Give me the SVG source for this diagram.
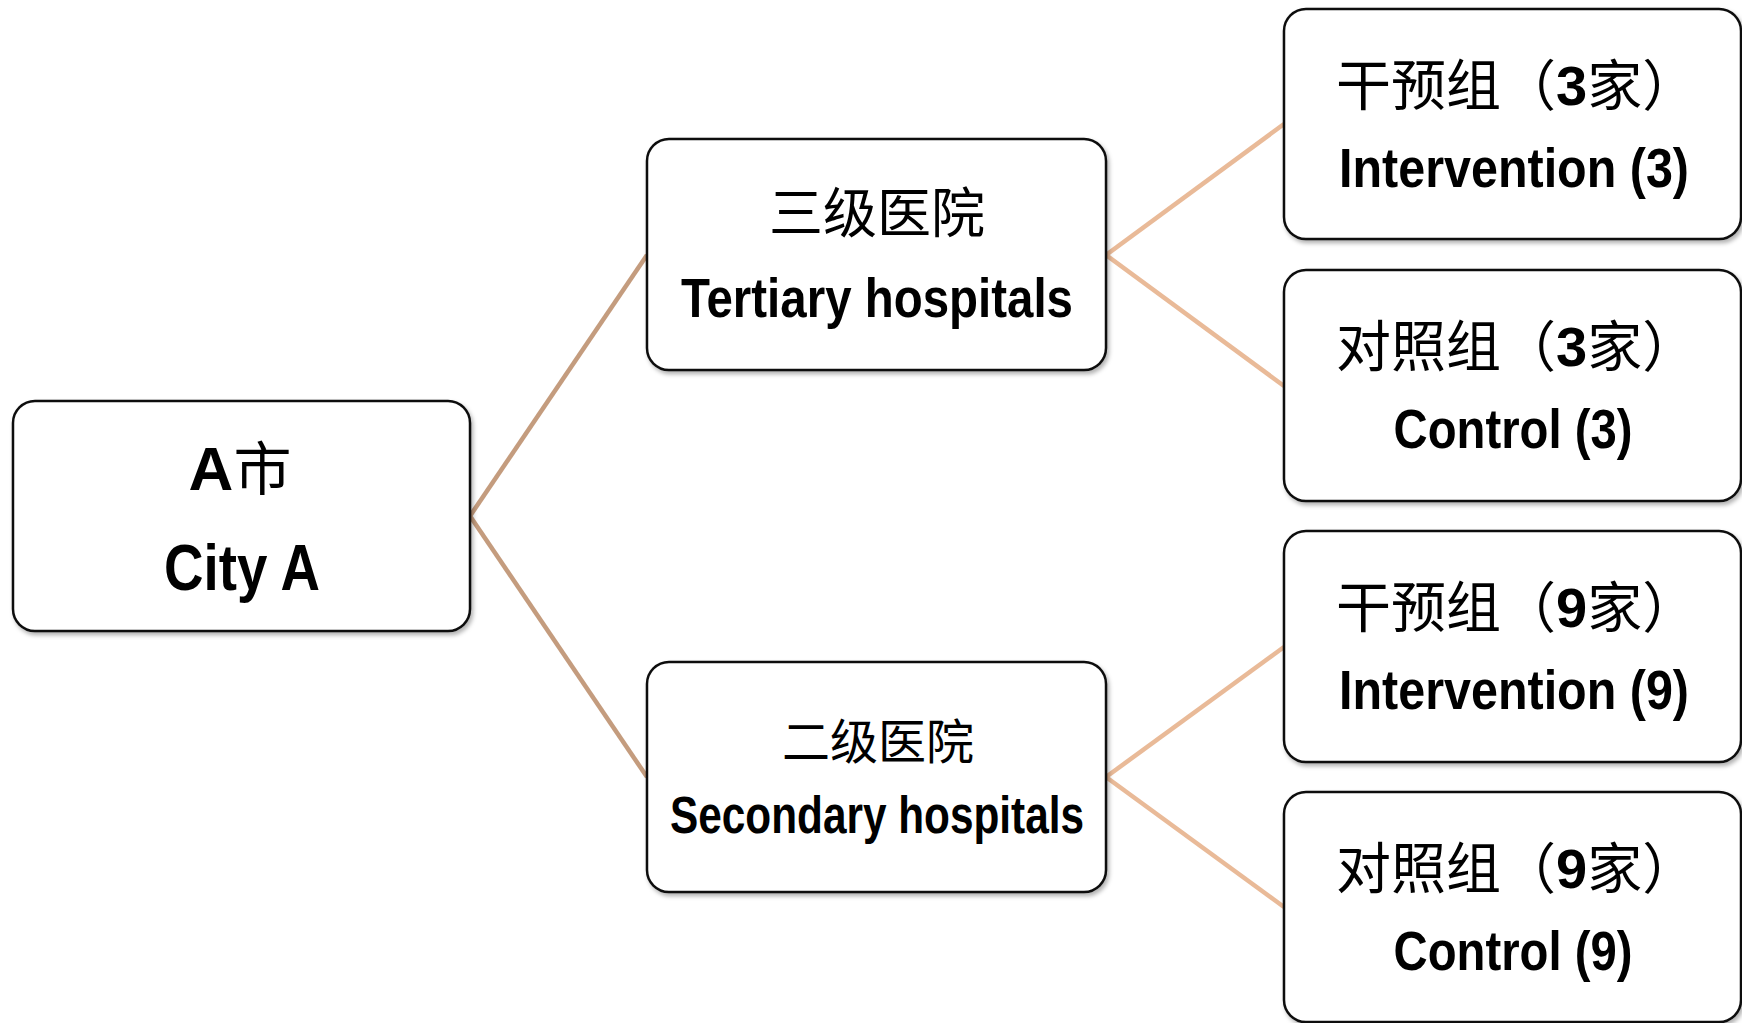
<svg xmlns="http://www.w3.org/2000/svg" width="1742" height="1023" viewBox="0 0 1742 1023">
<style>
.box{fill:#fff;stroke:#111;stroke-width:2.5;filter:url(#sh)}
.cn{font-family:"Noto Sans CJK SC",sans-serif;font-size:55px;fill:#000}
.en{font-family:"Liberation Sans",Arial,sans-serif;font-weight:bold;font-size:55px;fill:#000}
.num{font-family:"Liberation Sans",Arial,sans-serif;font-weight:bold;font-size:56px}
.c1{stroke:#C49C7E;stroke-width:4.5;fill:none}
.c2{stroke:#E9BA98;stroke-width:4.5;fill:none}
</style>
<defs>
<filter id="sh" x="-5%" y="-5%" width="112%" height="115%">
<feDropShadow dx="2" dy="3" stdDeviation="2" flood-color="#000" flood-opacity="0.3"/>
</filter>
</defs>
<rect width="1742" height="1023" fill="#fff"/>
<g id="connectors">
<line class="c1" x1="470" y1="516" x2="647" y2="255"/>
<line class="c1" x1="470" y1="516" x2="647" y2="777"/>
<line class="c2" x1="1106" y1="255" x2="1284" y2="124"/>
<line class="c2" x1="1106" y1="255" x2="1284" y2="386"/>
<line class="c2" x1="1106" y1="777" x2="1284" y2="647"/>
<line class="c2" x1="1106" y1="777" x2="1284" y2="907"/>
</g>
<g id="cityA">
<rect class="box" x="13" y="401" width="457" height="230" rx="22"/>
<text class="en" x="240" y="490" text-anchor="middle" style="font-size:62px">A<tspan class="cn" style="font-weight:normal;font-size:58px">市</tspan></text>
<text class="en" x="242" y="590" text-anchor="middle" style="font-size:64px" textLength="156" lengthAdjust="spacingAndGlyphs">City A</text>
</g>
<g id="tertiary">
<rect class="box" x="647" y="139" width="459" height="231" rx="22"/>
<text class="cn" x="877" y="233" text-anchor="middle" style="font-size:54px">三级医院</text>
<text class="en" x="877" y="317" text-anchor="middle" textLength="392" lengthAdjust="spacingAndGlyphs">Tertiary hospitals</text>
</g>
<g id="secondary">
<rect class="box" x="647" y="662" width="459" height="230" rx="22"/>
<text class="cn" x="878" y="759" text-anchor="middle" style="font-size:48px">二级医院</text>
<text class="en" x="877" y="833" text-anchor="middle" style="font-size:51px" textLength="414" lengthAdjust="spacingAndGlyphs">Secondary hospitals</text>
</g>
<g id="intervention3">
<rect class="box" x="1284" y="9" width="457" height="230" rx="22"/>
<text class="cn" x="1336" y="105">干预组（<tspan class="num">3</tspan>家）</text>
<text class="en" x="1514" y="187" text-anchor="middle" textLength="350" lengthAdjust="spacingAndGlyphs">Intervention (3)</text>
</g>
<g id="control3">
<rect class="box" x="1284" y="270" width="457" height="231" rx="22"/>
<text class="cn" x="1336" y="366">对照组（<tspan class="num">3</tspan>家）</text>
<text class="en" x="1513" y="448" text-anchor="middle" textLength="239" lengthAdjust="spacingAndGlyphs">Control (3)</text>
</g>
<g id="intervention9">
<rect class="box" x="1284" y="531" width="457" height="231" rx="22"/>
<text class="cn" x="1336" y="627">干预组（<tspan class="num">9</tspan>家）</text>
<text class="en" x="1514" y="709" text-anchor="middle" textLength="350" lengthAdjust="spacingAndGlyphs">Intervention (9)</text>
</g>
<g id="control9">
<rect class="box" x="1284" y="792" width="457" height="230" rx="22"/>
<text class="cn" x="1336" y="888">对照组（<tspan class="num">9</tspan>家）</text>
<text class="en" x="1513" y="970" text-anchor="middle" textLength="239" lengthAdjust="spacingAndGlyphs">Control (9)</text>
</g>
</svg>
